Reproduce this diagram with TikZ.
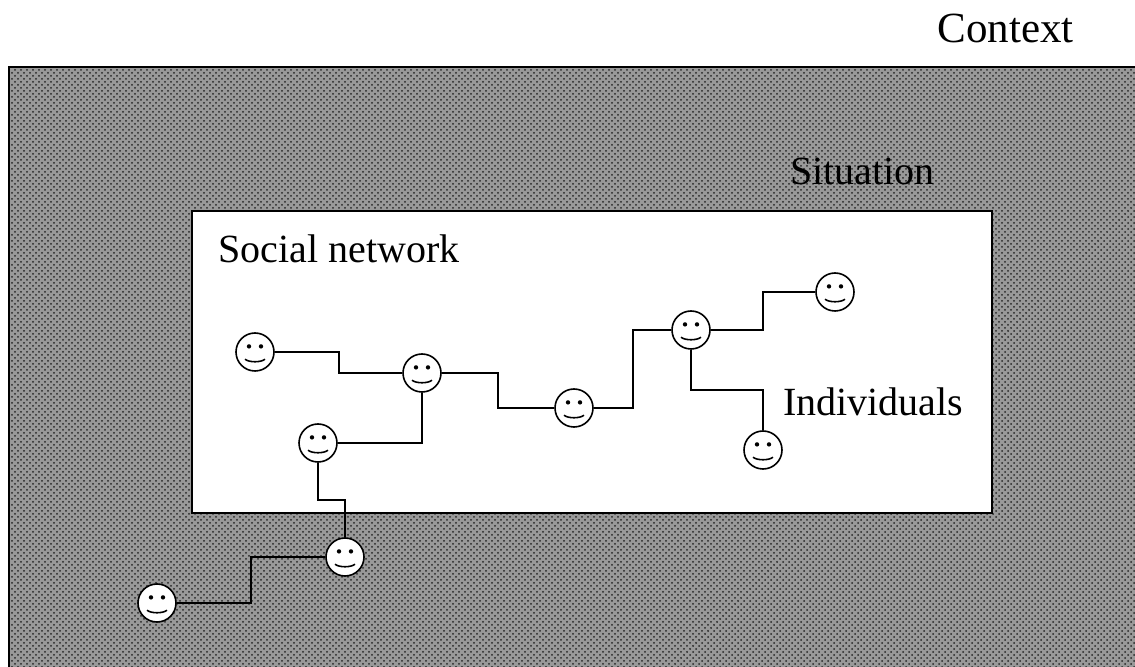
\documentclass[tikz,border=0pt]{standalone}
\usepackage{fontspec}
\setmainfont{Liberation Serif}
\usepackage{tikz}
\usetikzlibrary{calc,patterns,positioning,backgrounds}

\tikzset{
  face/.style={circle, draw, line width=0.8pt, fill=white, minimum size=19pt, inner sep=0pt,
    path picture={
      \fill[black] ([shift={(-3pt,2.8pt)}]path picture bounding box.center) circle (1.1pt);
      \fill[black] ([shift={(3pt,2.8pt)}]path picture bounding box.center) circle (1.1pt);
      \draw[black, line width=0.8pt] ([shift={(-5pt,-3.6pt)}]path picture bounding box.center)
        .. controls ([shift={(-3pt,-5.3pt)}]path picture bounding box.center)
        and ([shift={(3pt,-5.3pt)}]path picture bounding box.center)
        .. ([shift={(5pt,-3.6pt)}]path picture bounding box.center);
    }},
  word/.style={font=\fontsize{20}{24}\selectfont, inner sep=0pt, anchor=base west},
  hvh/.style={to path={-| ($(\tikztostart)!.5!(\tikztotarget)$) |- (\tikztotarget)}},
  vhv/.style={to path={|- ($(\tikztostart)!.5!(\tikztotarget)$) -| (\tikztotarget)}},
  link/.style={line width=1pt}
}

\begin{document}
\begin{tikzpicture}[x=0.5pt, y=-0.5pt]
\useasboundingbox (0,0) rectangle (1135,667);
\clip (0,0) rectangle (1135,667);
%
\node[word, font=\fontsize{21.5}{25}\selectfont] (context) at (937,43) {Context};
\node[word] (situation) at (790,185) {Situation};
\node[word] (socnet) at (218,263) {Social network};
\node[word] (indiv) at (783,416) {Individuals};
%
\node[face] (s1) at (255,352) {};
\node[face] (s2) at (422,373) {};
\node[face] (s3) at (318,443) {};
\node[face] (s4) at (574,408) {};
\node[face] (s5) at (691,330) {};
\node[face] (s6) at (835,292) {};
\node[face] (s7) at (763,450) {};
\node[face] (s8) at (345,557) {};
\node[face] (s9) at (157,603) {};
%
\begin{scope}[on background layer]
\draw[line width=0.8pt, preaction={fill=black!40}, pattern=crosshatch dots, pattern color=black!85]
  (9,67) rectangle (1150,690);
\draw[line width=0.8pt, fill=white] (192,211) rectangle (992,513);
%
\draw[link] (s1) to[hvh] (s2);
\draw[link] (s2) to[hvh] (s4);
\draw[link] (s4) to[hvh] (s5);
\draw[link] (s5) to[hvh] (s6);
\draw[link] (s3) -| (s2);
\draw[link] (s5) to[vhv] (s7);
\draw[link] (s3) to[vhv] (s8);
\draw[link] (s9) to[hvh] (s8);
\end{scope}
%
\end{tikzpicture}
\end{document}
